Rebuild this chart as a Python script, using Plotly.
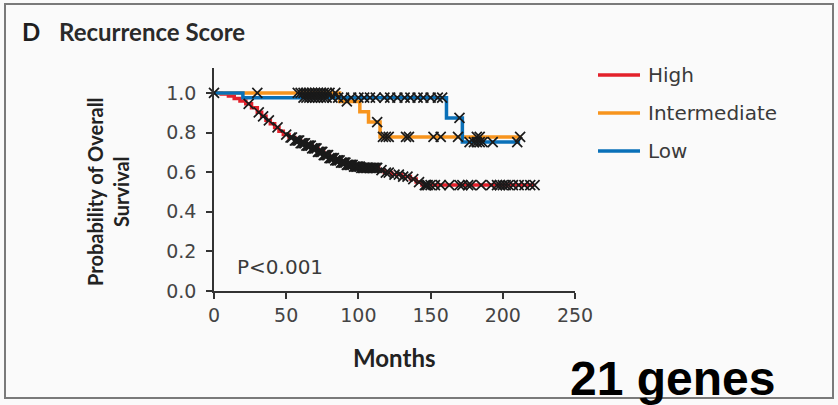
import numpy as np
import plotly.graph_objects as go

# Kaplan-Meier step curves (months, survival probability)
high_t = [0, 5, 10, 14, 18, 22, 26, 30, 33, 36, 39, 42, 45, 48, 52, 56, 60, 64, 68, 72,
          76, 80, 84, 88, 92, 97, 102, 114, 118, 123, 130, 136, 140, 144, 222]
high_s = [1.0, 0.995, 0.985, 0.972, 0.96, 0.945, 0.925, 0.902, 0.882, 0.862, 0.845, 0.826,
          0.807, 0.79, 0.775, 0.76, 0.746, 0.734, 0.72, 0.702, 0.686, 0.671, 0.66, 0.648,
          0.637, 0.628, 0.622, 0.61, 0.598, 0.588, 0.578, 0.565, 0.55, 0.535, 0.535]

inter_t = [0, 87, 101, 107, 115, 213]
inter_s = [1.0, 0.957, 0.905, 0.853, 0.778, 0.778]

low_t = [0, 20, 161, 172, 212]
low_s = [1.0, 0.976, 0.874, 0.752, 0.752]

# Censoring times
high_cens = [24, 31, 34, 38, 44, 50, 53, 54, 56, 57, 58, 59, 60, 61, 62, 63, 64, 65, 66, 67,
             68, 69, 70, 71, 72, 73, 74, 75, 76, 77, 78, 79, 80, 81, 82, 83, 84, 85, 86, 87,
             88, 89, 90, 91, 92, 93, 94, 95, 96, 97, 98, 99, 100, 101, 102, 103, 104, 105,
             106, 107, 108, 109, 110, 111, 112, 113, 116, 119, 121, 125, 128, 131, 134, 138,
             142, 146, 147, 148, 150, 153, 157, 163, 170, 172, 176, 178, 185, 192, 196, 198,
             200, 202, 204, 207, 211, 215, 219, 222]
inter_cens = [30, 58, 60, 62, 64, 66, 68, 70, 72, 74, 76, 78, 80, 84, 92, 113, 117, 119, 121,
              133, 135, 152, 157, 169, 182, 184, 212]
low_cens = [0, 62, 64, 66, 68, 70, 72, 74, 76, 78, 82, 86, 90, 95, 100, 104, 108, 112, 118,
            122, 127, 132, 136, 141, 145, 150, 155, 158, 170, 177, 180, 182, 184, 186, 193,
            210]

groups = ["High", "Intermediate", "Low"]
colors = ["#e3212b", "#f7941d", "#0a70b8"]

x_ticks = [0, 50, 100, 150, 200, 250]
y_ticks = [0.0, 0.2, 0.4, 0.6, 0.8, 1.0]


def surv_at(t, times, surv):
    idx = np.searchsorted(np.asarray(times), np.asarray(t), side="right") - 1
    return np.asarray(surv)[idx]


curves = [(high_t, high_s, high_cens), (inter_t, inter_s, inter_cens), (low_t, low_s, low_cens)]

fig = go.Figure()
for (t, s, _), name, col in zip(curves, groups, colors):
    fig.add_trace(go.Scatter(x=t, y=s, mode="lines", name=name, line_shape="hv",
                             line=dict(color=col, width=3.5), showlegend=False,
                             cliponaxis=False))
for (t, s, c), name in zip(curves, groups):
    fig.add_trace(go.Scatter(x=c, y=surv_at(c, t, s), mode="markers", name=name + " censored",
                             marker=dict(symbol="x-thin", size=10, color="#1a1a1a",
                                         line=dict(color="#1a1a1a", width=1.7)),
                             showlegend=False, cliponaxis=False))

# plot area geometry in pixels (for placing paper-referenced items)
L, R, T, B = 214, 575, 68, 291
W, H = R - L, B - T


def px(xp):
    return (xp - L) / W


def py(yp):
    return (B - yp) / H


shapes = [dict(type="rect", xref="paper", yref="paper", x0=px(5), x1=px(833), y0=py(4),
               y1=py(398), line=dict(color="#7a7a7a", width=2), fillcolor="rgba(0,0,0,0)",
               layer="below")]
annotations = []
for i, (name, col) in enumerate(zip(groups, colors)):
    yy = 75 + 38 * i
    shapes.append(dict(type="line", xref="paper", yref="paper", x0=px(598), x1=px(640),
                       y0=py(yy), y1=py(yy), line=dict(color=col, width=3.5)))
    annotations.append(dict(xref="paper", yref="paper", x=px(646), y=py(yy), text=name,
                            showarrow=False, xanchor="left", yanchor="middle",
                            font=dict(family="DejaVu Sans", size=20, color="#3a3a3a")))

title_font = "Lato"
annotations += [
    dict(xref="paper", yref="paper", x=px(20), y=py(32), xanchor="left", yanchor="middle",
         text="<b>D</b>", showarrow=False,
         font=dict(family=title_font, size=24, color="#1e1e1e")),
    dict(xref="paper", yref="paper", x=px(57), y=py(32), xanchor="left", yanchor="middle",
         text="<b>Recurrence Score</b>", showarrow=False,
         font=dict(family=title_font, size=24, color="#2a2a2a")),
    dict(xref="paper", yref="paper", x=px(108), y=py(191), xanchor="center", yanchor="middle",
         text="<b>Probability of Overall<br>Survival</b>", showarrow=False, textangle=-90,
         font=dict(family=title_font, size=20, color="#222222")),
    dict(xref="paper", yref="paper", x=px(394), y=py(357), xanchor="center", yanchor="middle",
         text="<b>Months</b>", showarrow=False,
         font=dict(family=title_font, size=24, color="#222222")),
    dict(xref="paper", yref="paper", x=px(235), y=py(267), xanchor="left", yanchor="middle",
         text="P<0.001", showarrow=False,
         font=dict(family="DejaVu Sans", size=20, color="#3a3a3a")),
    dict(xref="paper", yref="paper", x=px(672), y=py(378), xanchor="center", yanchor="middle",
         text="<b>21 genes</b>", showarrow=False,
         font=dict(family="Liberation Sans", size=48, color="#000000")),
]

axis_common = dict(showline=True, linecolor="#333333", linewidth=1.5, ticks="outside",
                   ticklen=6, tickwidth=1.5, tickcolor="#333333", showgrid=False,
                   zeroline=False, tickfont=dict(family="DejaVu Sans", size=19, color="#444444"))

fig.update_layout(
    width=838, height=405,
    margin=dict(l=L, r=838 - R, t=T, b=405 - B),
    paper_bgcolor="#fafafa", plot_bgcolor="#fafafa",
    xaxis=dict(range=[0, 250], tickvals=x_ticks, **axis_common),
    yaxis=dict(range=[0, 1.126], tickvals=y_ticks, tickformat=".1f",
               ticklabelstandoff=6, **axis_common),
    shapes=shapes, annotations=annotations, showlegend=False,
)

fig.write_html("out.html")
